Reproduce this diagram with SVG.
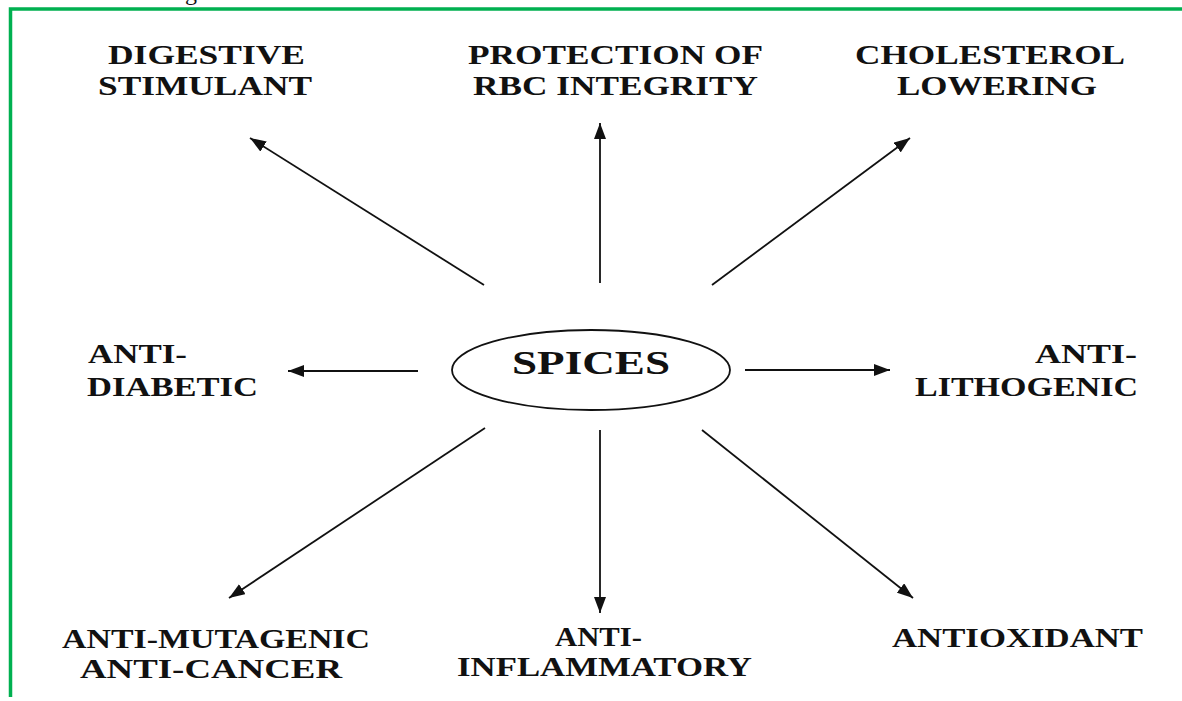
<svg xmlns="http://www.w3.org/2000/svg" width="1182" height="701" viewBox="0 0 1182 701">
<style>
.lbl{font-family:"Liberation Serif","Times New Roman",serif;font-weight:bold;font-size:28px;fill:#111;}
.big{font-size:33px;}
.frag{font-family:"Liberation Serif","Times New Roman",serif;font-size:24px;fill:#111;}
.conn line{stroke:#111;stroke-width:1.8;marker-end:url(#ah);}
.border{stroke:#00b050;stroke-width:3.5;fill:none;}
</style>
<defs>
<marker id="ah" viewBox="0 0 10 10" refX="10" refY="5" markerWidth="16" markerHeight="12" markerUnits="userSpaceOnUse" orient="auto" preserveAspectRatio="none">
<path d="M0,0 L10,5 L0,10 z" fill="#111"/>
</marker>
</defs>
<rect width="1182" height="701" fill="#fff"/>
<text class="frag" x="185" y="0">g</text>
<path class="border" d="M10.5,697 L10.5,9 L1182,9"/>
<g id="center">
<ellipse cx="591" cy="370" rx="139" ry="40" fill="none" stroke="#111" stroke-width="1.8"/>
<text class="lbl big" x="512" y="374" textLength="158" lengthAdjust="spacingAndGlyphs">SPICES</text>
</g>
<g id="digestive">
<text class="lbl" x="108" y="64" textLength="197" lengthAdjust="spacingAndGlyphs">DIGESTIVE</text>
<text class="lbl" x="98" y="95" textLength="214" lengthAdjust="spacingAndGlyphs">STIMULANT</text>
</g>
<g id="rbc">
<text class="lbl" x="468" y="64" textLength="295" lengthAdjust="spacingAndGlyphs">PROTECTION OF</text>
<text class="lbl" x="473" y="95" textLength="285" lengthAdjust="spacingAndGlyphs">RBC INTEGRITY</text>
</g>
<g id="cholesterol">
<text class="lbl" x="855" y="64" textLength="270" lengthAdjust="spacingAndGlyphs">CHOLESTEROL</text>
<text class="lbl" x="897" y="95" textLength="200" lengthAdjust="spacingAndGlyphs">LOWERING</text>
</g>
<g id="antidiabetic">
<text class="lbl" x="88" y="363" textLength="99" lengthAdjust="spacingAndGlyphs">ANTI-</text>
<text class="lbl" x="87" y="396" textLength="171" lengthAdjust="spacingAndGlyphs">DIABETIC</text>
</g>
<g id="antilithogenic">
<text class="lbl" x="1035" y="363" textLength="102" lengthAdjust="spacingAndGlyphs">ANTI-</text>
<text class="lbl" x="915" y="396" textLength="223" lengthAdjust="spacingAndGlyphs">LITHOGENIC</text>
</g>
<g id="antimutagenic">
<text class="lbl" x="62" y="648" textLength="308" lengthAdjust="spacingAndGlyphs">ANTI-MUTAGENIC</text>
<text class="lbl" x="80" y="678" textLength="262" lengthAdjust="spacingAndGlyphs">ANTI-CANCER</text>
</g>
<g id="antiinflammatory">
<text class="lbl" x="555" y="646" textLength="87" lengthAdjust="spacingAndGlyphs">ANTI-</text>
<text class="lbl" x="457" y="676" textLength="295" lengthAdjust="spacingAndGlyphs">INFLAMMATORY</text>
</g>
<g id="antioxidant">
<text class="lbl" x="892" y="647" textLength="251" lengthAdjust="spacingAndGlyphs">ANTIOXIDANT</text>
</g>
<g id="connectors" class="conn">
<line x1="600" y1="283" x2="600" y2="123"/>
<line x1="484" y1="285" x2="250" y2="138"/>
<line x1="712" y1="285" x2="910" y2="138"/>
<line x1="418" y1="371" x2="288" y2="371"/>
<line x1="745" y1="370" x2="890" y2="370"/>
<line x1="485" y1="428" x2="229" y2="598"/>
<line x1="600" y1="430" x2="600" y2="613"/>
<line x1="702" y1="430" x2="913" y2="598"/>
</g>
</svg>
